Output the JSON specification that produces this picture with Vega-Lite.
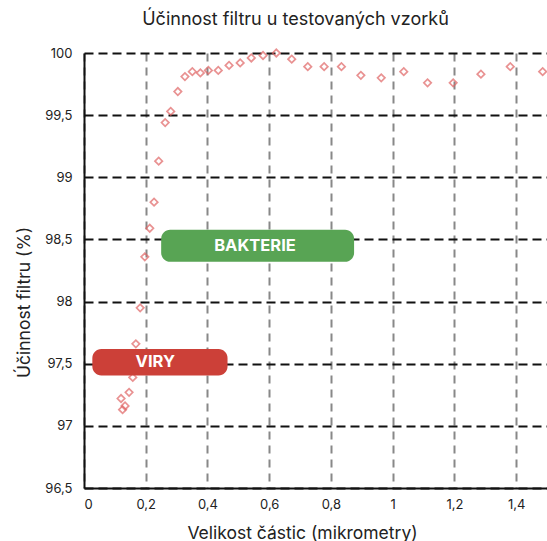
{
  "$schema": "https://vega.github.io/schema/vega-lite/v6.json",
  "width": 463,
  "height": 435,
  "autosize": "none",
  "padding": {"left": 84, "top": 53, "right": 0, "bottom": 53},
  "title": {"text": "Účinnost filtru u testovaných vzorků", "fontSize": 18, "fontWeight": "normal", "color": "#222", "dx": -20, "offset": 17},
  "config": {
    "locale": {"number": {"decimal": ",", "thousands": " ", "grouping": [3], "currency": ["", " Kč"]}},
    "view": {"stroke": null},
    "font": "Inter",
    "axis": {"domainColor": "#111", "domainWidth": 2, "ticks": false, "labelFontSize": 13, "labelColor": "#222", "titleFontSize": 17.5, "titleFontWeight": "normal", "titleColor": "#222", "gridWidth": 2}
  },
  "layer": [
    {
      "data": {"values": [
        {"size": 0.120, "eff": 97.22},
        {"size": 0.125, "eff": 97.13},
        {"size": 0.133, "eff": 97.16},
        {"size": 0.146, "eff": 97.27},
        {"size": 0.158, "eff": 97.39},
        {"size": 0.168, "eff": 97.66},
        {"size": 0.182, "eff": 97.95},
        {"size": 0.197, "eff": 98.36},
        {"size": 0.213, "eff": 98.59},
        {"size": 0.227, "eff": 98.80},
        {"size": 0.242, "eff": 99.13},
        {"size": 0.263, "eff": 99.44},
        {"size": 0.281, "eff": 99.53},
        {"size": 0.304, "eff": 99.69},
        {"size": 0.327, "eff": 99.81},
        {"size": 0.351, "eff": 99.85},
        {"size": 0.377, "eff": 99.84},
        {"size": 0.403, "eff": 99.86},
        {"size": 0.435, "eff": 99.86},
        {"size": 0.470, "eff": 99.90},
        {"size": 0.506, "eff": 99.92},
        {"size": 0.542, "eff": 99.96},
        {"size": 0.580, "eff": 99.98},
        {"size": 0.623, "eff": 100.0},
        {"size": 0.673, "eff": 99.95},
        {"size": 0.725, "eff": 99.89},
        {"size": 0.778, "eff": 99.89},
        {"size": 0.834, "eff": 99.89},
        {"size": 0.897, "eff": 99.82},
        {"size": 0.963, "eff": 99.80},
        {"size": 1.036, "eff": 99.85},
        {"size": 1.113, "eff": 99.76},
        {"size": 1.196, "eff": 99.76},
        {"size": 1.286, "eff": 99.83},
        {"size": 1.381, "eff": 99.89},
        {"size": 1.486, "eff": 99.85}
      ]},
      "mark": {"type": "point", "shape": "diamond", "filled": false, "color": "#e06464", "size": 55, "strokeWidth": 1.7, "clip": false},
      "encoding": {
        "x": {"field": "size", "type": "quantitative", "scale": {"domain": [0, 1.5], "nice": false, "zero": false},
          "axis": {"title": "Velikost částic (mikrometry)", "values": [0, 0.2, 0.4, 0.6, 0.8, 1, 1.2, 1.4], "format": "~g", "grid": true, "gridColor": "#888", "gridDash": [8, 6], "labelPadding": 10, "titleX": 218, "titleY": 45, "titleBaseline": "middle"}},
        "y": {"field": "eff", "type": "quantitative", "scale": {"domain": [96.5, 100], "nice": false, "zero": false},
          "axis": {"title": "Účinnost filtru (%)", "values": [96.5, 97, 97.5, 98, 98.5, 99, 99.5, 100], "format": "~g", "grid": true, "gridColor": "#111", "gridDash": [9, 5], "labelPadding": 12, "titleX": -60, "titleY": 249, "titleBaseline": "middle", "titleAlign": "center"}}
      }
    },
    {
      "data": {"values": [
        {"label": "BAKTERIE", "x1": 0.25, "x2": 0.875, "y1": 98.32, "y2": 98.577, "xc": 0.554, "yc": 98.45},
        {"label": "VIRY", "x1": 0.027, "x2": 0.465, "y1": 97.406, "y2": 97.618, "xc": 0.231, "yc": 97.51}
      ]},
      "layer": [
        {
          "mark": {"type": "rect", "cornerRadius": 9},
          "encoding": {
            "x": {"field": "x1", "type": "quantitative", "title": "Velikost částic (mikrometry)"},
            "x2": {"field": "x2"},
            "y": {"field": "y1", "type": "quantitative", "title": "Účinnost filtru (%)"},
            "y2": {"field": "y2"},
            "color": {"field": "label", "type": "nominal", "scale": {"domain": ["BAKTERIE", "VIRY"], "range": ["#58a454", "#cc4038"]}, "legend": null}
          }
        },
        {
          "mark": {"type": "text", "color": "white", "fontWeight": "bold", "fontSize": 16.5, "baseline": "middle", "align": "center"},
          "encoding": {
            "x": {"field": "xc", "type": "quantitative", "title": "Velikost částic (mikrometry)"},
            "y": {"field": "yc", "type": "quantitative", "title": "Účinnost filtru (%)"},
            "text": {"field": "label"}
          }
        }
      ]
    }
  ]
}
